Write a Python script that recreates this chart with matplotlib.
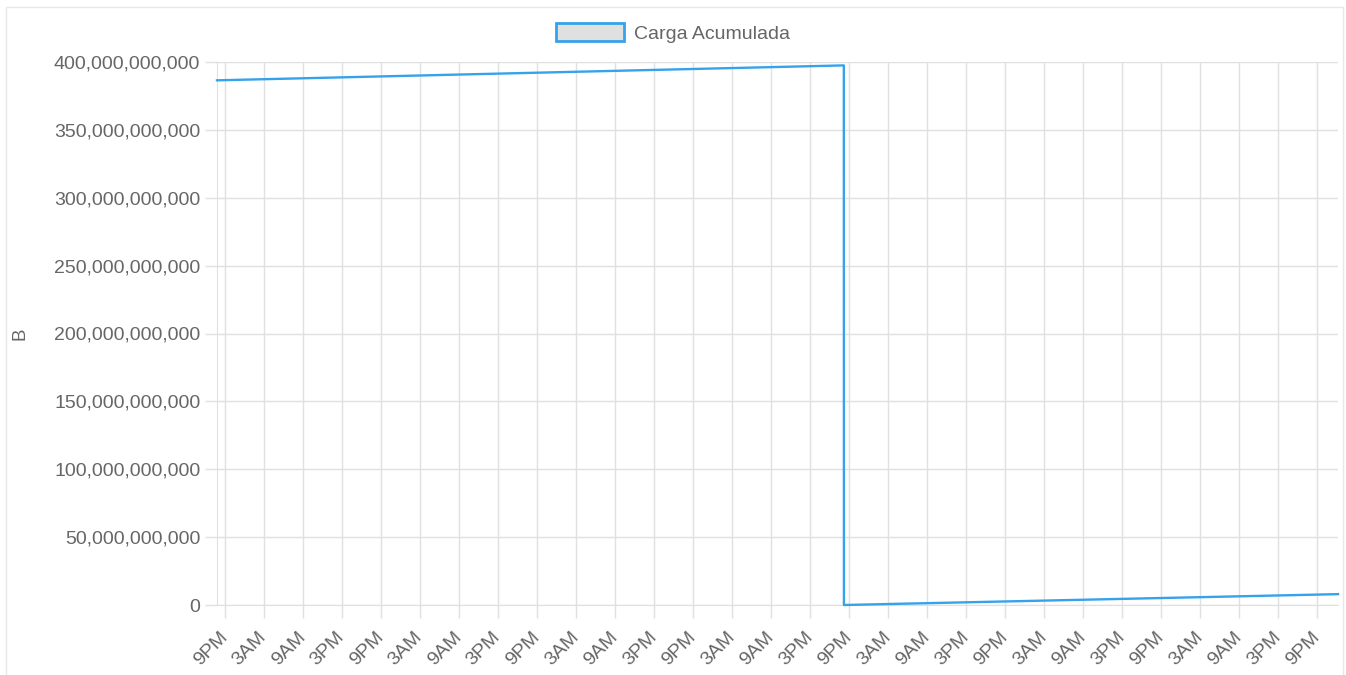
import matplotlib
matplotlib.use('Agg')
import matplotlib.pyplot as plt
import matplotlib.dates as mdates
from matplotlib.patches import Patch, Rectangle
from matplotlib.ticker import FuncFormatter
import pandas as pd

# data (bytes)
TIMES = ['2024-05-06 19:48', '2024-05-10 20:12', '2024-05-10 20:13', '2024-05-14 00:12']
VALUES = [386.5e9, 397.5e9, 0.0, 8.0e9]
SERIES_NAME = 'Carga Acumulada'
Y_LABEL = 'B'

LINE_COLOR = '#36a2eb'
GRID_COLOR = '#e0e0e0'
TEXT_COLOR = '#666666'


def hour_label(x, pos):
    dt = mdates.num2date(x)
    return dt.strftime('%I%p').lstrip('0')


def main():
    plt.rcParams['font.family'] = ['Liberation Sans', 'DejaVu Sans']
    times = pd.to_datetime(TIMES)

    fig = plt.figure(figsize=(13.46, 6.75), dpi=100)
    ax = fig.add_axes([217 / 1346, 1 - 605 / 675, (1338 - 217) / 1346, (605 - 62) / 675])

    # outer panel border
    fig.patches.append(Rectangle((6 / 1346, -0.01), (1343 - 6) / 1346, 1 - 7 / 675 + 0.01,
                                 transform=fig.transFigure, fill=False,
                                 edgecolor='#e8e8e8', linewidth=1))

    ax.plot(times, VALUES, color=LINE_COLOR, linewidth=1.7, clip_on=False, zorder=3)

    ax.set_xlim(times[0], times[-1])
    ax.set_ylim(0, 400e9)
    ax.set_yticks([i * 50e9 for i in range(9)])
    ax.yaxis.set_major_formatter(FuncFormatter(lambda v, p: f'{v:,.0f}'))

    ax.xaxis.set_major_locator(mdates.HourLocator(byhour=[3, 9, 15, 21]))
    ax.xaxis.set_major_formatter(FuncFormatter(hour_label))

    ax.grid(True, color=GRID_COLOR, linewidth=1)
    ax.set_axisbelow(True)
    for side in ['top', 'right']:
        ax.spines[side].set_visible(False)
    ax.spines['left'].set_color(GRID_COLOR)
    ax.spines['bottom'].set_color(GRID_COLOR)

    ax.tick_params(axis='both', colors=GRID_COLOR, labelcolor=TEXT_COLOR,
                   length=9, width=1, labelsize=14)
    ax.tick_params(axis='y', pad=3)
    ax.tick_params(axis='x', pad=12)
    for lbl in ax.get_xticklabels():
        lbl.set_rotation(45)
        lbl.set_ha('right')
        lbl.set_va('center')
        lbl.set_rotation_mode('anchor')

    ax.set_ylabel(Y_LABEL, color=TEXT_COLOR, fontsize=13.5)
    ax.yaxis.set_label_coords(-189 / 1121, 0.5)

    handle = Patch(facecolor='#e0e0e0', edgecolor=LINE_COLOR, linewidth=2, label=SERIES_NAME)
    fig.legend(handles=[handle], loc='center', bbox_to_anchor=(0.5, 1 - 33 / 675),
               frameon=False, fontsize=14, labelcolor=TEXT_COLOR,
               handlelength=3.5, handleheight=1.05, handletextpad=0.5)

    fig.savefig('out.png', dpi=100)


if __name__ == "__main__":
    main()
